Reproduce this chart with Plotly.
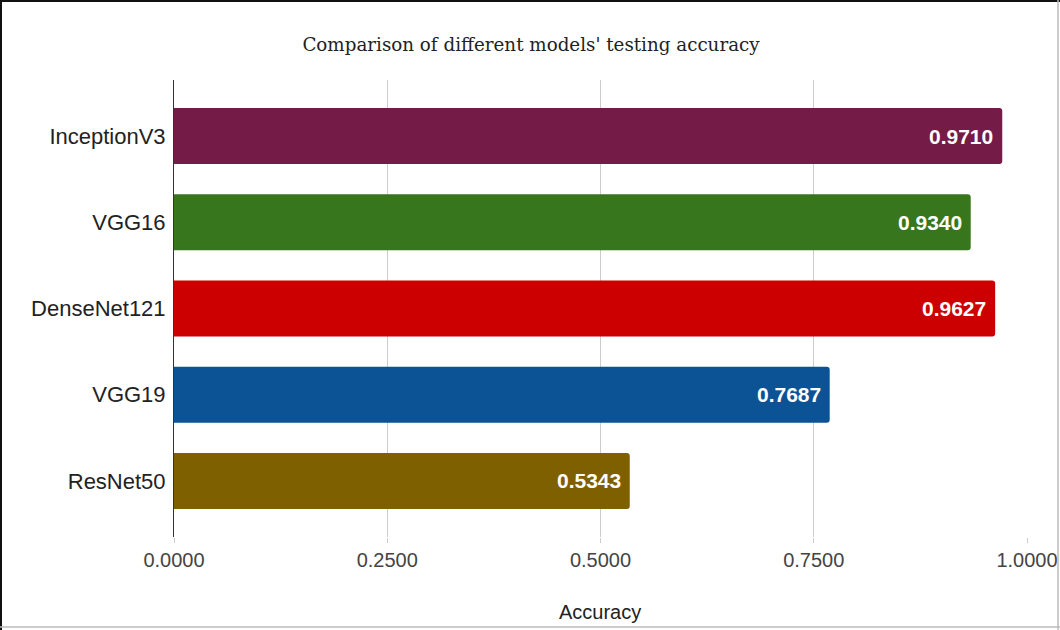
import plotly.graph_objects as go

# Model names and their testing accuracy
models = ["InceptionV3", "VGG16", "DenseNet121", "VGG19", "ResNet50"]
accuracy = [0.9710, 0.9340, 0.9627, 0.7687, 0.5343]
bar_colors = ["#741B47", "#38761D", "#CC0000", "#0B5394", "#7F6000"]
tick_vals = [0.0, 0.25, 0.5, 0.75, 1.0]
tick_text = ["0.0000", "0.2500", "0.5000", "0.7500", "1.0000"]

W, H = 1060, 630
L, R, T, B = 174, 33, 80, 93
pw, ph = W - L - R, H - T - B
SANS = "Liberation Sans, Arial, sans-serif"


def px_x(p):
    return (p - L) / pw


def px_y(p):
    return 1 - (p - T) / ph


fig = go.Figure(
    go.Bar(
        x=accuracy,
        y=models,
        orientation="h",
        marker=dict(color=bar_colors, line=dict(width=0), cornerradius=3),
        width=0.65,
        hoverinfo="skip",
    )
)

# value labels sitting just inside the end of each bar
value_labels = [
    dict(
        x=v,
        y=m,
        xref="x",
        yref="y",
        text=f"{v:.4f}",
        xanchor="right",
        yanchor="middle",
        xshift=-7,
        showarrow=False,
        font=dict(family=SANS, size=21, color="white", weight="bold"),
    )
    for m, v in zip(models, accuracy)
]

fig.update_layout(
    width=W,
    height=H,
    margin=dict(l=L, r=R, t=T, b=B, autoexpand=False),
    paper_bgcolor="white",
    plot_bgcolor="white",
    showlegend=False,
    title=dict(
        text="Comparison of different models' testing accuracy",
        x=531 / W,
        xanchor="center",
        y=1 - 45 / H,
        yanchor="middle",
        font=dict(family="DejaVu Serif, serif", size=18.3, color="#222222"),
    ),
    xaxis=dict(
        range=[0, 1],
        tickvals=tick_vals,
        ticktext=tick_text,
        showgrid=True,
        gridcolor="#CCCCCC",
        gridwidth=1,
        zeroline=False,
        showline=False,
        ticks="outside",
        ticklen=5,
        tickcolor="#CCCCCC",
        tickfont=dict(family=SANS, size=20, color="#444444"),
        automargin=False,
        fixedrange=True,
    ),
    yaxis=dict(
        range=[4.65, -0.65],
        showgrid=False,
        zeroline=False,
        showline=True,
        linecolor="#333333",
        linewidth=1,
        ticks="",
        ticklabelstandoff=3,
        tickfont=dict(family=SANS, size=22, color="#222222"),
        automargin=False,
        fixedrange=True,
    ),
    annotations=value_labels + [
        dict(
            text="Accuracy",
            xref="paper",
            yref="paper",
            x=px_x(600),
            y=px_y(612),
            xanchor="center",
            yanchor="middle",
            showarrow=False,
            font=dict(family=SANS, size=20, color="#222222"),
        )
    ],
    shapes=[
        # outer frame: dark on top/left, light grey on right/bottom
        dict(type="line", xref="paper", yref="paper", x0=px_x(1), x1=px_x(1),
             y0=px_y(0), y1=px_y(630), line=dict(color="#111111", width=2)),
        dict(type="line", xref="paper", yref="paper", x0=px_x(0), x1=px_x(1060),
             y0=px_y(1), y1=px_y(1), line=dict(color="#111111", width=2)),
        dict(type="line", xref="paper", yref="paper", x0=px_x(1058), x1=px_x(1058),
             y0=px_y(0), y1=px_y(630), line=dict(color="#BBBBBB", width=1.5)),
        dict(type="line", xref="paper", yref="paper", x0=px_x(0), x1=px_x(1060),
             y0=px_y(627), y1=px_y(627), line=dict(color="#BBBBBB", width=1.5)),
    ],
)

fig.write_html("out.html")
